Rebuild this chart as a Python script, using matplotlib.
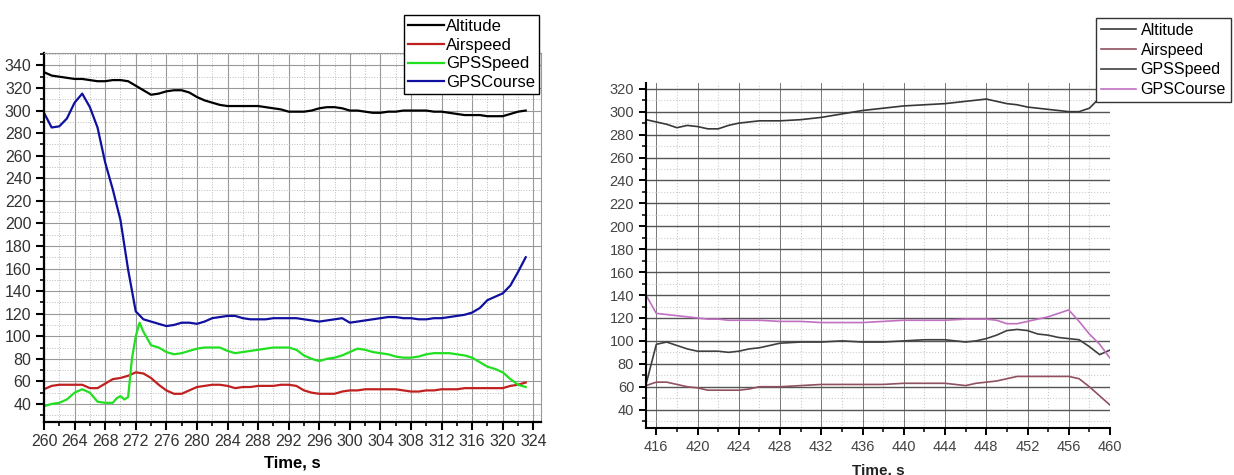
import numpy as np
import matplotlib
matplotlib.use("Agg")
import matplotlib.pyplot as plt
from matplotlib.ticker import MultipleLocator

plt.rcParams['font.family'] = ['Liberation Sans', 'DejaVu Sans']

# left flight segment (t = 260..323 s)
t1 = [260, 261, 262, 263, 264, 265, 266, 267, 268, 269, 270, 271, 272, 273, 274, 275,
      276, 277, 278, 279, 280, 281, 282, 283, 284, 285, 286, 287, 288, 289, 290, 291,
      292, 293, 294, 295, 296, 297, 298, 299, 300, 301, 302, 303, 304, 305, 306, 307,
      308, 309, 310, 311, 312, 313, 314, 315, 316, 317, 318, 319, 320, 321, 322, 323]
alt1 = [334, 331, 330, 329, 328, 328, 327, 326, 326, 327, 327, 326, 322, 318, 314, 315,
        317, 318, 318, 316, 312, 309, 307, 305, 304, 304, 304, 304, 304, 303, 302, 301,
        299, 299, 299, 300, 302, 303, 303, 302, 300, 300, 299, 298, 298, 299, 299, 300,
        300, 300, 300, 299, 299, 298, 297, 296, 296, 296, 295, 295, 295, 297, 299, 300]
air1 = [53, 56, 57, 57, 57, 57, 54, 54, 58, 62, 63, 65, 68, 67, 63, 57,
        52, 49, 49, 52, 55, 56, 57, 57, 56, 54, 55, 55, 56, 56, 56, 57,
        57, 56, 52, 50, 49, 49, 49, 51, 52, 52, 53, 53, 53, 53, 53, 52,
        51, 51, 52, 52, 53, 53, 53, 54, 54, 54, 54, 54, 54, 56, 57, 59]
t1_gspd = [260, 261, 262, 263, 264, 265, 266, 267, 268, 269, 269.5, 270, 270.5, 271, 271.5,
           272, 272.5, 273, 274, 275, 276, 277, 278, 279, 280, 281, 282, 283, 284, 285,
           286, 287, 288, 289, 290, 291, 292, 293, 294, 295, 296, 297, 298, 299, 300, 301,
           302, 303, 304, 305, 306, 307, 308, 309, 310, 311, 312, 313, 314, 315, 316, 317,
           318, 319, 320, 321, 322, 323]
gspd1 = [38, 40, 41, 44, 50, 53, 50, 42, 41, 41, 45, 47, 44, 46, 80,
         100, 112, 104, 92, 90, 86, 84, 85, 87, 89, 90, 90, 90, 87, 85,
         86, 87, 88, 89, 90, 90, 90, 88, 83, 80, 78, 80, 81, 83, 86, 89,
         88, 86, 85, 84, 82, 81, 81, 82, 84, 85, 85, 85, 84, 83, 81, 77,
         73, 71, 68, 62, 57, 55]
gcrs1 = [298, 285, 286, 293, 307, 315, 303, 285, 254, 230, 203, 159, 122, 115, 113, 111,
         109, 110, 112, 112, 111, 113, 116, 117, 118, 118, 116, 115, 115, 115, 116, 116,
         116, 116, 115, 114, 113, 114, 115, 116, 112, 113, 114, 115, 116, 117, 117, 116,
         116, 115, 115, 116, 116, 117, 118, 119, 121, 125, 132, 135, 138, 145, 157, 170]

# right flight segment (t = 415..460 s)
t2 = [415, 416, 417, 418, 419, 420, 421, 422, 423, 424, 425, 426, 428, 430, 432, 434,
      436, 438, 440, 442, 444, 446, 447, 448, 449, 450, 451, 452, 453, 454, 455, 456,
      457, 458, 459, 460]
alt2 = [293, 291, 289, 286, 288, 287, 285, 285, 288, 290, 291, 292, 292, 293, 295, 298,
        301, 303, 305, 306, 307, 309, 310, 311, 309, 307, 306, 304, 303, 302, 301, 300,
        300, 303, 312, 318]
air2 = [61, 64, 64, 62, 60, 59, 57, 57, 57, 57, 58, 60, 60, 61, 62, 62,
        62, 62, 63, 63, 63, 61, 63, 64, 65, 67, 69, 69, 69, 69, 69, 69,
        67, 60, 52, 44]
gspd2 = [62, 97, 99, 96, 93, 91, 91, 91, 90, 91, 93, 94, 98, 99, 99, 100,
         99, 99, 100, 101, 101, 99, 100, 102, 105, 109, 110, 109, 106, 105, 103, 102,
         101, 95, 88, 92]
gcrs2 = [140, 124, 123, 122, 121, 120, 119, 119, 118, 118, 118, 118, 117, 117, 116, 116,
         116, 117, 118, 118, 118, 119, 119, 119, 118, 115, 115, 117, 119, 121, 124, 127,
         117, 106, 97, 85]

names = ['Altitude', 'Airspeed', 'GPSSpeed', 'GPSCourse']

fig = plt.figure(figsize=(12.34, 4.75), dpi=100)

# ---- left chart ----
ax1 = fig.add_axes([44 / 1234, 53 / 475, 497 / 1234, 369 / 475])
cols1 = ['#000000', '#c02020', '#20e020', '#1010a0']
xs1 = [t1, t1, t1_gspd, t1]
for x, y, c, n in zip(xs1, [alt1, air1, gspd1, gcrs1], cols1, names):
    ax1.plot(x, y, color=c, lw=1.6, label=n)
ax1.set_xlim(260, 325)
ax1.set_ylim(24, 351)
ax1.xaxis.set_major_locator(MultipleLocator(4))
ax1.xaxis.set_minor_locator(MultipleLocator(2))
ax1.yaxis.set_minor_locator(MultipleLocator(10))
ax1.set_yticks(np.arange(40, 341, 20))
ax1.grid(which='major', color='#999999', lw=0.8)
ax1.grid(which='minor', color='#bbbbbb', lw=0.7, ls=':')
ax1.tick_params(which='major', direction='out', length=6, width=1.5, labelsize=11.5,
                labelcolor='#333333', pad=3)
ax1.tick_params(which='minor', direction='out', length=3, width=1.2)
for s in ['left', 'bottom']:
    ax1.spines[s].set_linewidth(1.6)
for s in ['top', 'right']:
    ax1.spines[s].set_color('#999999')
    ax1.spines[s].set_linewidth(0.8)
ax1.set_xlabel('Time, s', fontsize=12, fontweight='bold')
ax1.xaxis.set_label_coords(0.5, -0.112)
ax1.xaxis.label.set_va('center')
fig.legend(*ax1.get_legend_handles_labels(), loc='upper right',
           bbox_to_anchor=(539 / 1234, 1 - 15 / 475), bbox_transform=fig.transFigure,
           borderaxespad=0, fancybox=False, framealpha=1, edgecolor='black',
           fontsize=12, labelspacing=0.22, handlelength=2.15, handletextpad=0.1,
           borderpad=0.25)

# ---- right chart ----
ax2 = fig.add_axes([646 / 1234, 47 / 475, 464 / 1234, 345 / 475])
cols2 = ['#383838', '#905060', '#404040', '#c070c0']
for y, c, n in zip([alt2, air2, gspd2, gcrs2], cols2, names):
    ax2.plot(t2, y, color=c, lw=1.2, label=n)
ax2.set_xlim(415, 460)
ax2.set_ylim(24, 325)
ax2.set_xticks(np.arange(416, 461, 4))
ax2.xaxis.set_minor_locator(MultipleLocator(2))
ax2.set_yticks(np.arange(40, 321, 20))
ax2.yaxis.set_minor_locator(MultipleLocator(10))
ax2.grid(axis='y', which='major', color='#555555', lw=1.0)
ax2.grid(axis='x', which='major', color='#777777', lw=0.7)
ax2.grid(which='minor', color='#cccccc', lw=0.8, ls=':')
ax2.tick_params(which='major', direction='out', length=5, width=1.4, labelsize=10.5,
                labelcolor='#444444')
ax2.tick_params(which='minor', direction='out', length=3, width=1.1)
for lab in ax2.get_xticklabels() + ax2.get_yticklabels():
    lab.set_family(['Liberation Sans Narrow', 'Liberation Sans'])
for s in ['left', 'bottom']:
    ax2.spines[s].set_linewidth(1.5)
for s in ['top', 'right']:
    ax2.spines[s].set_visible(False)
ax2.set_xlabel('Time, s', fontsize=11, fontweight='bold', color='#222222')
ax2.xaxis.set_label_coords(0.5, -0.122)
ax2.xaxis.label.set_va('center')
fig.legend(*ax2.get_legend_handles_labels(), loc='upper left',
           bbox_to_anchor=(1096 / 1234, 1 - 18 / 475), bbox_transform=fig.transFigure,
           borderaxespad=0, fancybox=False, framealpha=1, edgecolor='#333333',
           fontsize=11.5, labelspacing=0.3, handlelength=2.2, handletextpad=0.3,
           borderpad=0.3)

fig.savefig('out.png', dpi=100)
